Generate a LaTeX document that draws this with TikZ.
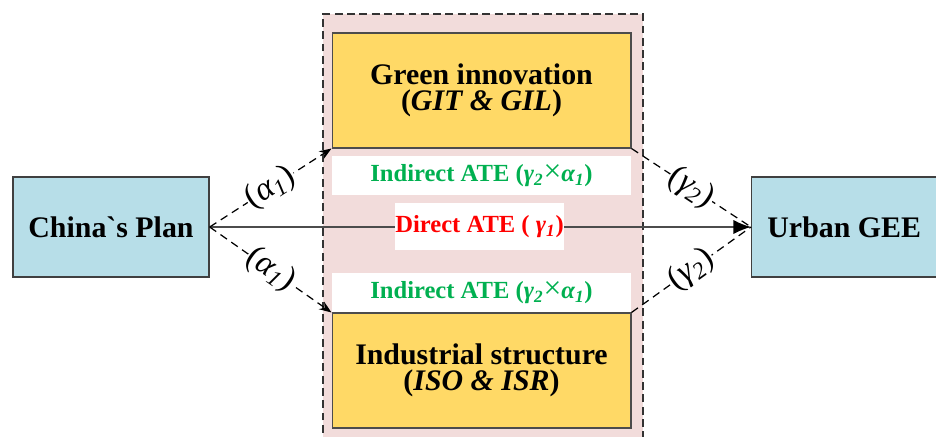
\documentclass[tikz,border=0pt]{standalone}
\usepackage{fontspec}
\setmainfont{Liberation Serif}
\usepackage{xcolor}
\usetikzlibrary{arrows.meta}

\definecolor{mechpink}{RGB}{242,220,219}
\definecolor{boxyellow}{RGB}{255,217,102}
\definecolor{boxblue}{RGB}{183,222,232}
\definecolor{ategreen}{RGB}{0,176,80}

\newcommand{\bigtimes}{{\fontsize{18}{16}\selectfont\mdseries ×}}

\tikzset{
  outer/.style={draw=black!75,line width=0.8pt,fill=boxblue,
    minimum width=3.92cm,minimum height=2cm,
    font=\fontsize{17}{19}\selectfont\bfseries},
  channel/.style={draw=black!70,line width=0.6pt,fill=boxyellow,
    minimum width=5.98cm,minimum height=2.3cm,align=center,
    font=\fontsize{17}{15}\selectfont\bfseries},
  effect/.style={fill=white,minimum height=0.78cm,inner xsep=0pt,
    font=\fontsize{14}{16}\selectfont\bfseries},
  dashpath/.style={dash pattern=on 4.5pt off 3pt,line width=0.7pt},
  coef/.style={midway,sloped,fill=white,inner sep=0.5pt,
    font=\fontsize{19}{21}\selectfont}
}

\begin{document}
\begin{tikzpicture}[x=0.02cm,y=-0.02cm]
\useasboundingbox (0,0) rectangle (936,436);
% mediating block
\path[fill=mechpink] (323,14) rectangle (643,445);
\draw[dash pattern=on 4.5pt off 2.5pt,line width=0.7pt,black!80]
  (323,445)--(323,14)--(643,14)--(643,445);

\node[outer] (plan) at (111,227) {China\textasciigrave s Plan};
\node[outer,minimum width=3.7cm,anchor=west] (gee) at (751,227) {Urban GEE};

% direct effect
\draw[black!70,line width=0.7pt,-{Latex[length=10pt,width=8pt,black]}] (plan.east)--(gee.west);

\node[channel] (green) at (481.5,90.5) {Green innovation\\(\textit{GIT \& GIL})};
\node[channel] (indus) at (481.5,370.5) {Industrial structure\\(\textit{ISO \& ISR})};

\node[effect,minimum width=5.98cm,text=ategreen] (indtop) at (481.5,175.5)
  {Indirect ATE (\textit{γ\textsubscript{2}}\bigtimes\textit{α\textsubscript{1}})};
\node[effect,minimum width=3.3cm,minimum height=0.94cm,text=red] (direct) at (479.5,226.5)
  {Direct ATE ( \textit{γ\textsubscript{1}})};
\node[effect,minimum width=5.98cm,text=ategreen] (indbot) at (481.5,292.5)
  {Indirect ATE (\textit{γ\textsubscript{2}}\bigtimes\textit{α\textsubscript{1}})};

% indirect paths
\draw[dashpath,-{Stealth[length=7pt]}] (plan.east)--(green.south west)
  node[coef]{(\textit{α\textsubscript{1}})};
\draw[dashpath,-{Stealth[length=7pt]}] (plan.east)--(indus.north west)
  node[coef]{(\textit{α\textsubscript{1}})};
\draw[dashpath] (green.south east)--(gee.west)
  node[coef]{(\textit{γ\textsubscript{2}})};
\draw[dashpath] (indus.north east)--(gee.west)
  node[coef]{(\textit{γ\textsubscript{2}})};
\end{tikzpicture}
\end{document}
